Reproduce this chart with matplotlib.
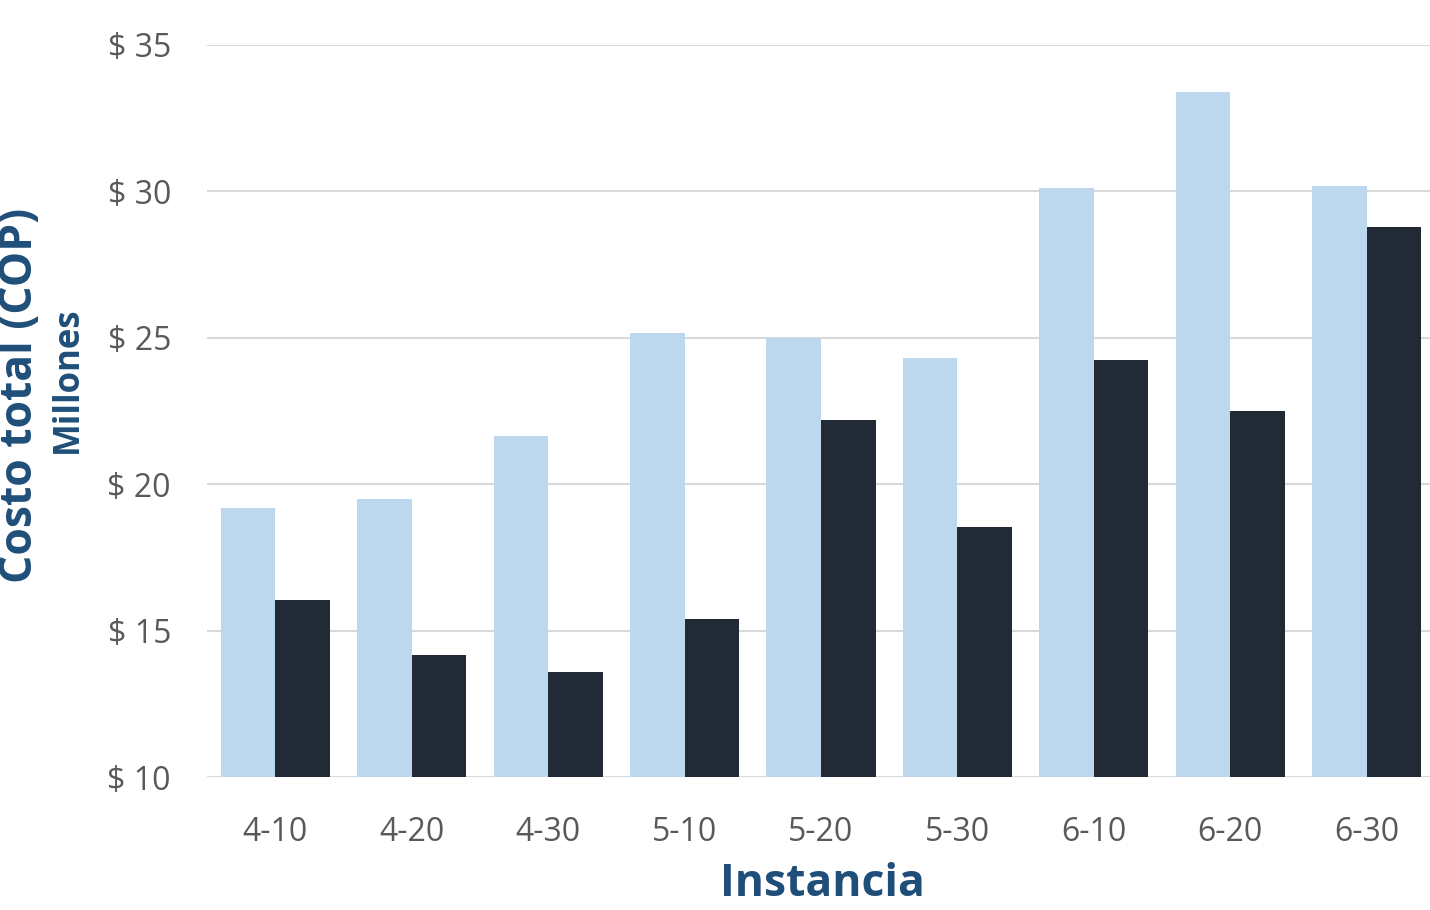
import matplotlib
matplotlib.use("Agg")
import matplotlib.pyplot as plt
import numpy as np

# ── datos ──────────────────────────────────────────────
instancias = ["4-10", "4-20", "4-30", "5-10", "5-20", "5-30", "6-10", "6-20", "6-30"]
costo_a = [19.2, 19.5, 21.65, 25.15, 25.0, 24.3, 30.1, 33.4, 30.2]
costo_b = [16.05, 14.15, 13.6, 15.4, 22.2, 18.55, 24.25, 22.5, 28.8]
y_ticks = [10, 15, 20, 25, 30, 35]

plt.rcParams["font.family"] = ["Open Sans", "DejaVu Sans"]

W, H = 1430, 910
fig = plt.figure(figsize=(W / 100, H / 100), dpi=100)
ax = fig.add_axes([207 / W, 1 - 777 / H, 1228 / W, (777 - 45) / H])

x = np.arange(len(instancias))
w = 0.4
ax.bar(x - w / 2, costo_a, width=w, color="#BDD7EE", zorder=2)
ax.bar(x + w / 2, costo_b, width=w, color="#222A35", zorder=2)

ax.set_xlim(-0.5, len(instancias) - 0.5)
ax.set_ylim(10, 35)
ax.set_yticks(y_ticks)
ax.set_yticklabels([f"$ {v}" for v in y_ticks])
ax.set_xticks(x)
ax.set_xticklabels(instancias)
ax.tick_params(axis="both", length=0, labelsize=23, labelcolor="#595959")
ax.tick_params(axis="y", pad=26)
ax.tick_params(axis="x", pad=28)
ax.grid(axis="y", color="#D9D9D9", linewidth=1.5, zorder=0)
for s in ax.spines.values():
    s.set_visible(False)

fig.text(21 / W, 1 - 395 / H, "Costo total (COP)", rotation=90, ha="center", va="center",
         fontsize=32, fontweight="bold", color="#1F4E79")
fig.text(68 / W, 1 - 380 / H, "Millones", rotation=90, ha="center", va="center",
         fontsize=25, fontweight="bold", color="#1F4E79")
fig.text(822 / W, 1 - 884 / H, "Instancia", ha="center", va="center",
         fontsize=32, fontweight="bold", color="#1F4E79")

fig.savefig("out.png", dpi=100)
